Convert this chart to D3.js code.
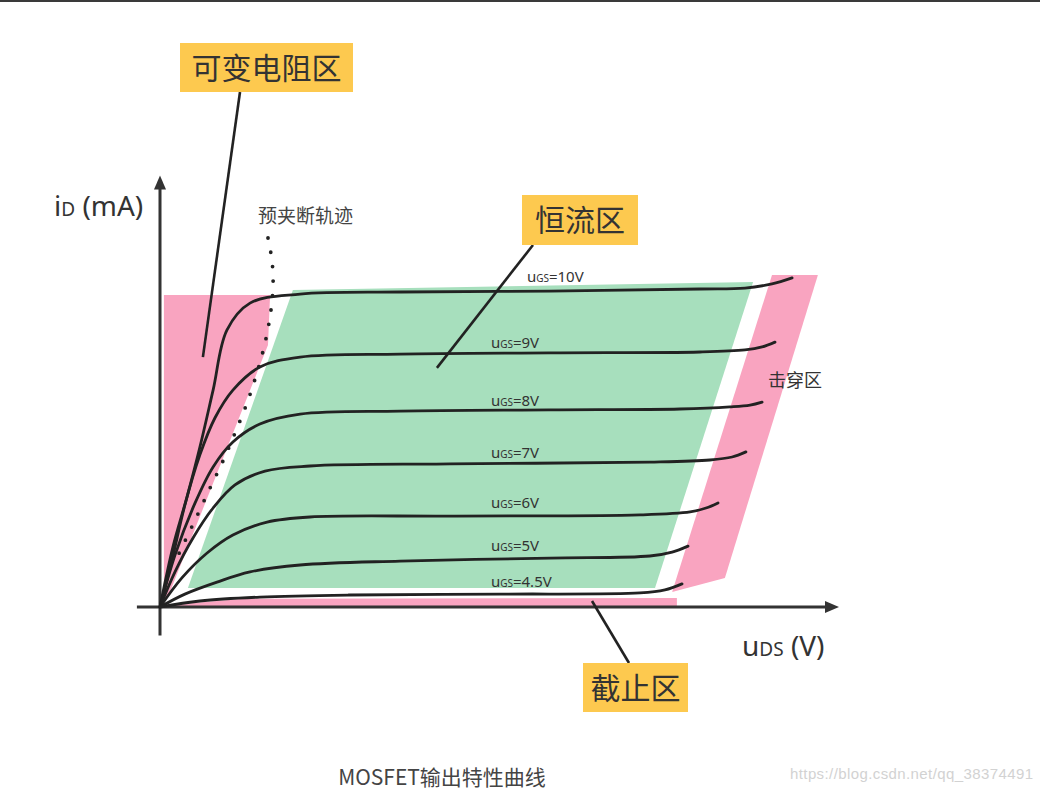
<!DOCTYPE html>
<html>
<head>
<meta charset="utf-8">
<script src="https://cdn.jsdelivr.net/npm/d3@7"></script>
<style>
    body { margin: 0; background: #fff; }
    svg { display: block; }
</style>
</head>
<body>
<svg id="plotSVG" width="1040" height="792"></svg>
<script>
// uDS (V), iD (mA) points
let gateVoltages = ["10V", "9V", "8V", "7V", "6V", "5V", "4.5V"]
let curve10 = [[0,0],[0.43,2.0],[0.9,3.67],[1.33,5.33],[1.77,7.23],[2.23,9.23],[3.0,10.13],[4.67,10.43],[8.0,10.5],[13.0,10.53],[18.0,10.6],[19.5,10.63],[20.4,10.77],[21.07,10.97]]
let curve9 = [[0,0],[0.4,1.57],[0.83,3.4],[1.33,5.07],[1.83,6.3],[2.43,7.23],[3.33,8.0],[4.67,8.33],[8.0,8.43],[13.0,8.47],[18.0,8.5],[19.5,8.57],[20.07,8.67],[20.5,8.83]]
let curve8 = [[0,0],[0.5,1.73],[1.17,3.47],[1.77,4.67],[2.43,5.5],[3.33,6.1],[4.67,6.43],[8.0,6.53],[13.0,6.57],[17.33,6.6],[19.0,6.67],[19.67,6.73],[20.07,6.83]]
let curve7 = [[0,0],[0.5,1.17],[1.1,2.3],[1.77,3.3],[2.5,4.07],[3.5,4.53],[5.0,4.7],[9.67,4.77],[16.33,4.83],[18.33,4.9],[19.07,5.0],[19.53,5.17]]
let curve6 = [[0,0],[0.73,0.97],[1.57,1.8],[2.43,2.4],[3.57,2.83],[5.0,3.0],[9.67,3.03],[16.0,3.07],[17.67,3.17],[18.2,3.3],[18.6,3.47]]
let curve5 = [[0,0],[0.83,0.43],[1.9,0.83],[3.0,1.17],[4.67,1.4],[8.0,1.53],[13.0,1.63],[16.33,1.7],[17.07,1.83],[17.6,2.03]]
let curve45 = [[0,0],[1.33,0.2],[3.33,0.33],[6.33,0.4],[11.33,0.43],[16.0,0.47],[16.83,0.57],[17.4,0.77]]
let curves = [curve10, curve9, curve8, curve7, curve6, curve5, curve45]
// where each uGS label sits (start x, baseline y)
let labelPos = [[12.23,10.83],[11.03,8.63],[11.03,6.7],[11.03,4.97],[11.03,3.3],[11.03,1.87],[11.03,0.67]]

// pinch-off trajectory
let pinchOff = [[3.6,12.3],[3.73,11.57],[3.77,10.8],[3.7,9.9],[3.5,8.8],[3.23,7.8],[2.9,6.8],[2.5,5.8],[2.07,4.8],[1.67,3.97],[1.17,2.9],[0.77,2.07],[0.45,1.4]]

// regions
let ohmicRegion = [[0.13,10.4],[3.67,10.4],[3.6,8.73],[0.33,0.5],[0.13,0.23]]
let saturationRegion = [[4.43,10.57],[19.77,10.83],[16.5,0.63],[0.93,0.63]]
let breakdownRegion = [[20.4,11.07],[21.93,11.07],[18.83,0.97],[17.07,0.5]]
let cutoffRegion = [[0.33,0.07],[2.67,0.27],[17.23,0.3],[17.23,0.03],[0.33,0.03]]

let svg = d3.select("#plotSVG")
let cjk = "'Noto Sans CJK SC', 'Noto Sans', sans-serif"
let ink = "#333"

let xScale = d3.scaleLinear().domain([0, 22]).range([160, 820])
let yScale = d3.scaleLinear().domain([0, 11]).range([607, 277])

// thin dark rule across the top edge
svg.append("rect").attr("x", 0).attr("y", 0).attr("width", 1040).attr("height", 2).attr("fill", "#3a3a3a")

let area = d3.line().x(d => xScale(d[0])).y(d => yScale(d[1]))
let regions = [[ohmicRegion, "#f9a4c0"], [saturationRegion, "#a7dfbd"], [breakdownRegion, "#f9a4c0"], [cutoffRegion, "#f9a4c0"]]
svg.selectAll(".region")
    .data(regions)
    .join("path")
    .attr("class", "region")
    .attr("d", d => area(d[0]) + "Z")
    .attr("fill", d => d[1])

// dotted pinch-off line
svg.append("path")
    .attr("d", d3.line().x(d => xScale(d[0])).y(d => yScale(d[1])).curve(d3.curveCatmullRom)(pinchOff))
    .attr("fill", "none")
    .attr("stroke", "#222")
    .attr("stroke-width", 3.8)
    .attr("stroke-linecap", "round")
    .attr("stroke-dasharray", "0 14.5")

svg.append("text")
    .attr("x", xScale(3.27)).attr("y", yScale(12.8))
    .style("font-family", cjk).style("font-size", "19px").attr("fill", "#444")
    .text("预夹断轨迹")

// axes (no ticks, just arrows)
let axisG = svg.append("g").attr("stroke", ink).attr("stroke-width", 3)
axisG.append("line").attr("x1", xScale(0)).attr("x2", xScale(0)).attr("y1", yScale(-0.95)).attr("y2", yScale(14.1))
axisG.append("line").attr("x1", xScale(-0.77)).attr("x2", xScale(22.3)).attr("y1", yScale(0)).attr("y2", yScale(0))
svg.append("path")
    .attr("d", `M${xScale(0)},${yScale(14.15) - 7} l-6,14 l12,0 Z`)
    .attr("fill", ink)
svg.append("path")
    .attr("d", `M${xScale(22.4) + 7},${yScale(0)} l-14,-6 l0,12 Z`)
    .attr("fill", ink)

// output curves
let curveLine = d3.line().x(d => xScale(d[0])).y(d => yScale(d[1])).curve(d3.curveCatmullRom.alpha(0.5))
svg.selectAll(".curve")
    .data(curves)
    .join("path")
    .attr("class", "curve")
    .attr("d", d => curveLine(d))
    .attr("fill", "none")
    .attr("stroke", "#222")
    .attr("stroke-width", 2.8)
    .attr("stroke-linecap", "round")

// uGS labels
let labels = svg.selectAll(".ugs")
    .data(gateVoltages)
    .join("text")
    .attr("class", "ugs")
    .attr("x", (d, i) => xScale(labelPos[i][0]))
    .attr("y", (d, i) => yScale(labelPos[i][1]))
    .style("font-family", "'Noto Sans', sans-serif")
    .attr("fill", ink)
labels.append("tspan").style("font-size", "15px").text("u")
labels.append("tspan").style("font-size", "10px").text("GS")
labels.append("tspan").style("font-size", "15px").text(d => "=" + d)

// axis titles
let yTitle = svg.append("text").attr("x", 54).attr("y", 216)
    .style("font-family", "'Noto Sans', sans-serif").attr("fill", ink)
yTitle.append("tspan").style("font-size", "28px").text("i")
yTitle.append("tspan").style("font-size", "19px").text("D")
yTitle.append("tspan").style("font-size", "28px").text(" (mA)")

let xTitle = svg.append("text").attr("x", 742).attr("y", 656)
    .style("font-family", "'Noto Sans', sans-serif").attr("fill", ink)
xTitle.append("tspan").style("font-size", "28px").text("u")
xTitle.append("tspan").style("font-size", "19px").text("DS")
xTitle.append("tspan").style("font-size", "28px").text(" (V)")

// breakdown label
svg.append("text")
    .attr("x", 768).attr("y", 387)
    .style("font-family", cjk).style("font-size", "18px").attr("fill", ink)
    .text("击穿区")

// callout boxes with leader lines
let callouts = [
    {text: "可变电阻区", x: 180, y: 43, w: 173, h: 49, from: [240, 92], to: [1.43, 8.33]},
    {text: "恒流区", x: 522, y: 195, w: 116, h: 50, from: [533, 245], to: [9.23, 7.97]},
    {text: "截止区", x: 583, y: 663, w: 105, h: 49, from: [629, 663], to: [14.4, 0.2]}
]
svg.selectAll(".leader")
    .data(callouts)
    .join("line")
    .attr("class", "leader")
    .attr("x1", d => d.from[0]).attr("y1", d => d.from[1])
    .attr("x2", d => xScale(d.to[0])).attr("y2", d => yScale(d.to[1]))
    .attr("stroke", "#222")
    .attr("stroke-width", 2.6)
svg.selectAll(".callout-box")
    .data(callouts)
    .join("rect")
    .attr("class", "callout-box")
    .attr("x", d => d.x).attr("y", d => d.y)
    .attr("width", d => d.w).attr("height", d => d.h)
    .attr("fill", "#fdc94f")
svg.selectAll(".callout-text")
    .data(callouts)
    .join("text")
    .attr("class", "callout-text")
    .attr("x", d => d.x + d.w / 2)
    .attr("y", d => d.y + d.h / 2 + 11)
    .attr("text-anchor", "middle")
    .style("font-family", cjk)
    .style("font-size", "30px")
    .attr("fill", ink)
    .text(d => d.text)

// caption and watermark
svg.append("text")
    .attr("x", 442).attr("y", 785)
    .attr("text-anchor", "middle")
    .style("font-family", cjk).style("font-size", "21px").attr("fill", "#444")
    .text("MOSFET输出特性曲线")
svg.append("text")
    .attr("x", 790).attr("y", 779)
    .attr("textLength", 243)
    .style("font-family", "'Liberation Sans', sans-serif").style("font-size", "15px").attr("fill", "#d2d2d2")
    .text("https://blog.csdn.net/qq_38374491")
</script>
</body>
</html>
